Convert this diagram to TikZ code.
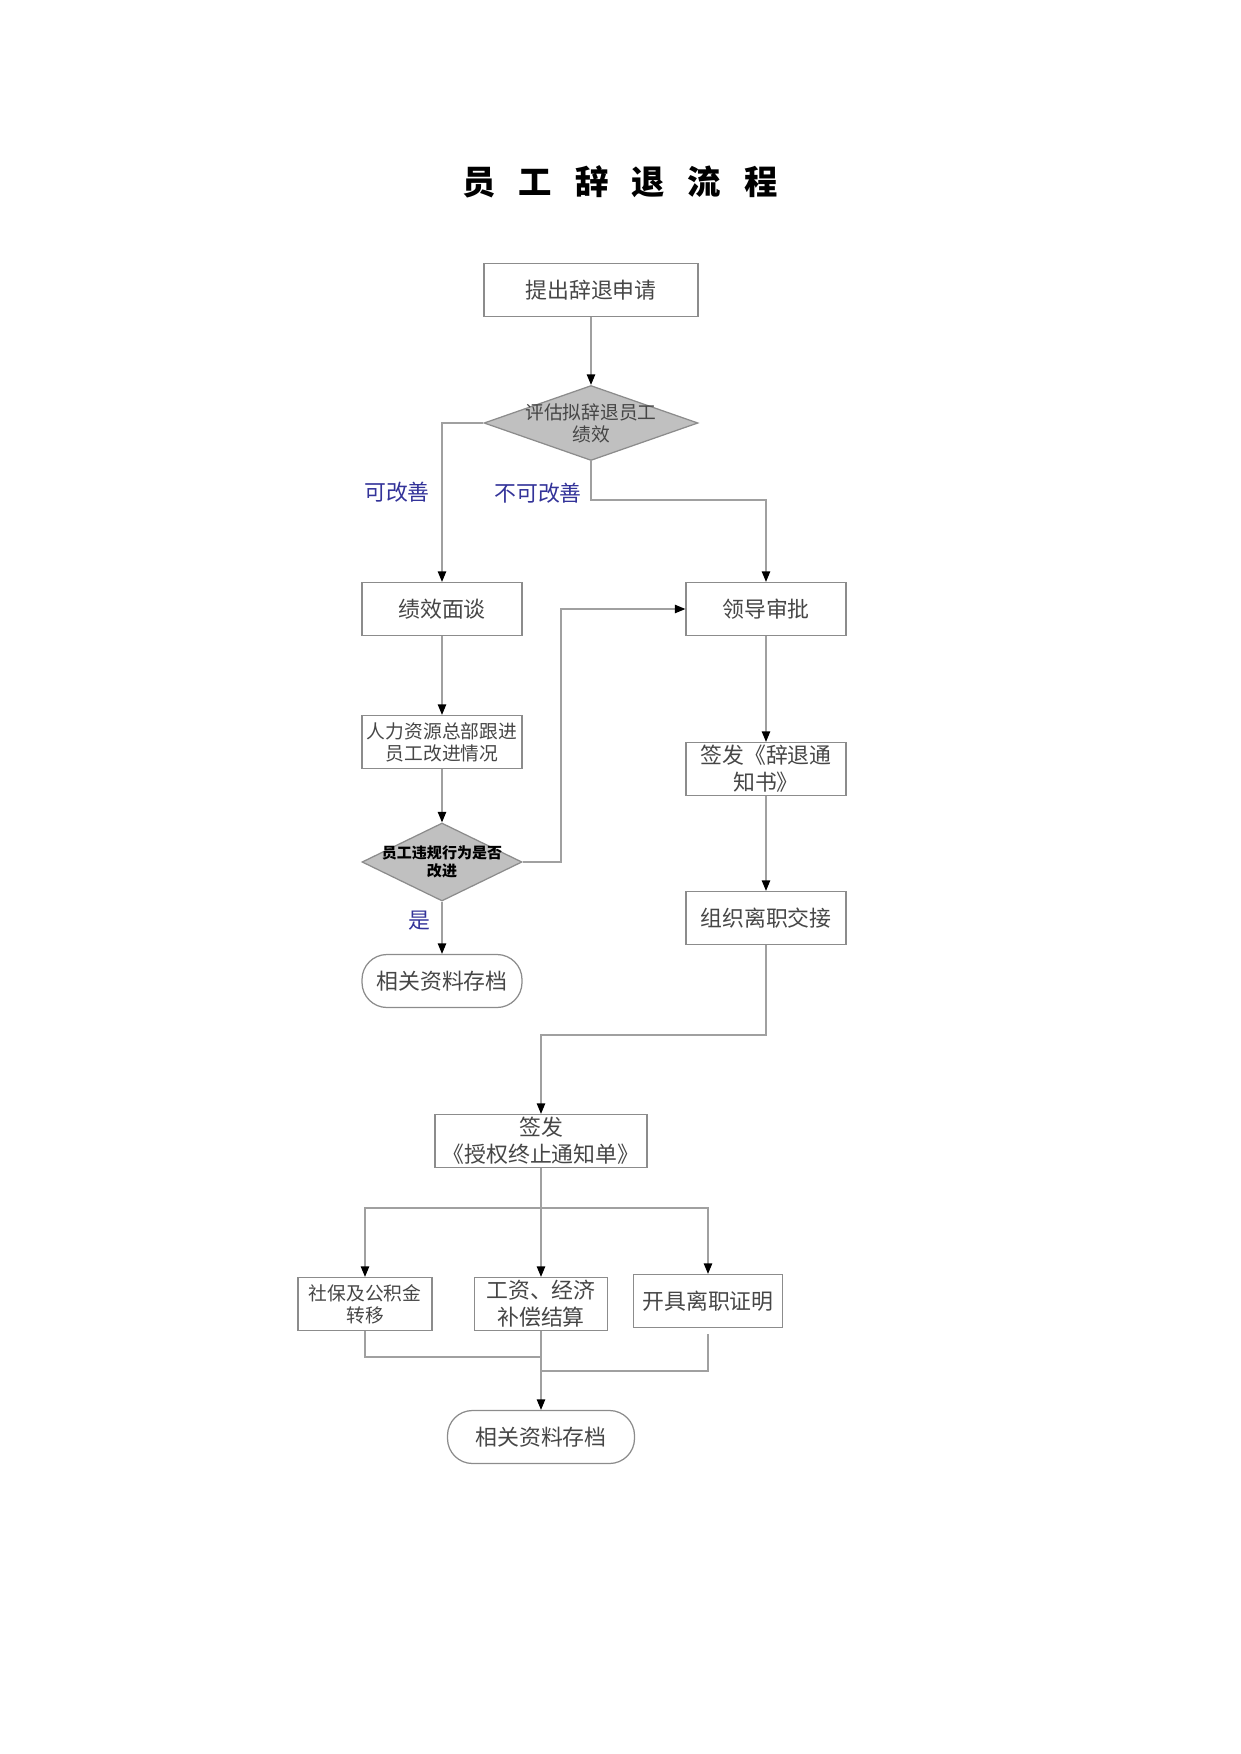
\documentclass[tikz,border=0pt]{standalone}
\usepackage{fontspec}
\setmainfont{Noto Sans CJK SC}
\usetikzlibrary{shapes.geometric,arrows.meta}
\newcommand{\pxu}{0.4797pt}
\definecolor{linegray}{RGB}{160,160,160}
\definecolor{boxgray}{RGB}{140,140,140}
\definecolor{txtgray}{RGB}{70,70,70}
\definecolor{lblblue}{RGB}{51,51,153}
\definecolor{decfill}{RGB}{192,192,192}

\begin{document}
\begin{tikzpicture}[x=\pxu,y=-\pxu,
		box/.style={draw=boxgray,line width=0.6pt,text=txtgray,align=center,inner sep=1pt,minimum height=53*\pxu,font=\fontsize{10.5}{13}\selectfont},
		smallbox/.style={box,font=\fontsize{9}{10.6}\selectfont},
		term/.style={box,rounded corners=12pt},
		dec/.style={diamond,draw=boxgray,line width=0.6pt,fill=decfill,inner sep=0pt},
		dtxt/.style={text=txtgray,align=center,inner sep=0pt,font=\fontsize{9}{10.6}\selectfont},
		lbl/.style={text=lblblue,font=\fontsize{10.5}{13}\selectfont},
		line/.style={draw=linegray,line width=0.6pt},
		arr/.style={line,-{Triangle[length=5pt,width=4pt,color=black]}}]
	\useasboundingbox (0,0) rectangle (1241,1754);
	\node[font=\fontsize{16}{19}\selectfont\bfseries] (ttl) at (620,182) {员\hspace{11pt}工\hspace{11pt}辞\hspace{11pt}退\hspace{11pt}流\hspace{11pt}程};
	
	\node[box,minimum width=214*\pxu] (tc) at (591,290) {提出辞退申请};
	\node[dec,minimum width=214*\pxu,minimum height=75*\pxu,label={[dtxt]center:评估拟辞退员工\\绩效}] (pg) at (591,423) {};
	\node[box,minimum width=160*\pxu] (jx) at (442,609) {绩效面谈};
	\node[box,minimum width=160*\pxu] (ld) at (766,609) {领导审批};
	\node[smallbox,minimum width=160*\pxu] (gj) at (442,742) {人力资源总部跟进\\员工改进情况};
	\node[dec,minimum width=160*\pxu,minimum height=78*\pxu,label={[dtxt,text=black,font=\fontsize{7.2}{8.6}\selectfont\bfseries]center:员工违规行为是否\\改进}] (wg) at (442,862) {};
	\node[term,minimum width=160*\pxu] (gd1) at (442,981) {相关资料存档};
	\node[box,minimum width=160*\pxu] (tz) at (766,769) {签发《辞退通\\知书》};
	\node[box,minimum width=160*\pxu] (jj) at (766,918) {组织离职交接};
	\node[box,minimum width=212*\pxu] (sq) at (541,1141) {签发\\《授权终止通知单》};
	\node[smallbox,minimum width=134*\pxu] (sb) at (365,1304) {社保及公积金\\转移};
	\node[box,minimum width=133*\pxu] (gz) at (541,1304) {工资、经济\\补偿结算};
	\node[box,minimum width=149*\pxu] (kj) at (708,1301) {开具离职证明};
	\node[term,minimum width=187*\pxu] (gd2) at (541,1437) {相关资料存档};
	
	\node[lbl] (kgs) at (397,492) {可改善};
	\node[lbl] (bkgs) at (538,493) {不可改善};
	\node[lbl] (shi) at (419,921) {是};
	
	\coordinate (pgr) at (766,500);
	\coordinate (fk) at (561,862);
	\coordinate (jjd) at (541,1035);
	\coordinate (fz) at (541,1208);
	\coordinate (hbl) at (541,1357);
	\coordinate (hbr) at (541,1371);
	
	\draw[arr] (tc.south) -- (pg.north);
	\draw[arr] (pg.west) -| (jx.north);
	\draw[arr] (pg.south) |- (pgr) -- (ld.north);
	\draw[arr] (jx.south) -- (gj.north);
	\draw[arr] (gj.south) -- (wg.north);
	\draw[arr] (wg.east) -- (fk) |- (ld.west);
	\draw[arr] (wg.south) -- (gd1.north);
	\draw[arr] (ld.south) -- (tz.north);
	\draw[arr] (tz.south) -- (jj.north);
	\draw[arr] (jj.south) |- (jjd) -- (sq.north);
	\draw[line] (sq.south) -- (fz);
	\draw[arr] (fz) -| (sb.north);
	\draw[arr] (fz) -| (kj.north);
	\draw[arr] (fz) -- (gz.north);
	\draw[line] (sb.south) |- (hbl);
	\draw[line,shorten <=6*\pxu] (kj.south) |- (hbr);
	\draw[arr] (gz.south) -- (gd2.north);
\end{tikzpicture}
\end{document}
